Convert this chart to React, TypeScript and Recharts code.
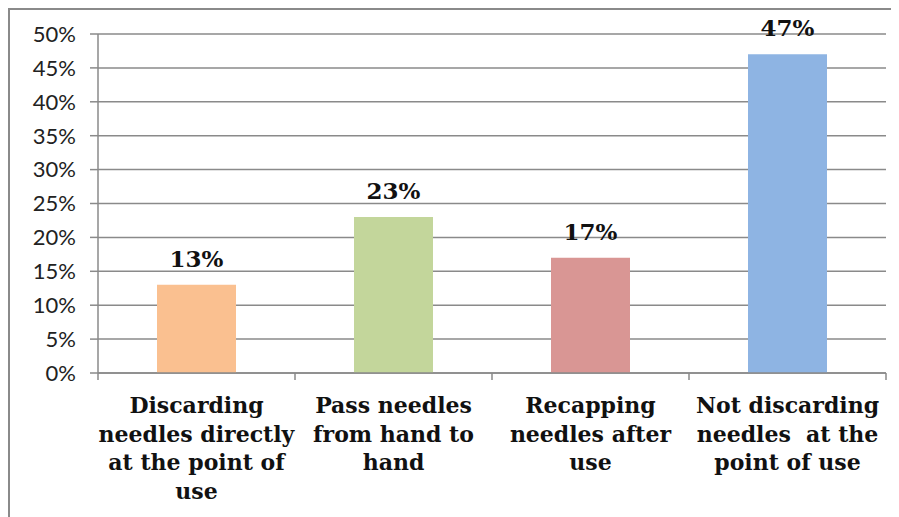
import { Bar, BarChart, CartesianGrid, Cell, LabelList, XAxis, YAxis } from "recharts";

const categories = [
  "Discarding needles directly at the point of use",
  "Pass needles from hand to hand",
  "Recapping needles after use",
  "Not discarding needles  at the point of use",
];
const tickLines = [
  ["Discarding", "needles directly", "at the point of", "use"],
  ["Pass needles", "from hand to", "hand"],
  ["Recapping", "needles after", "use"],
  ["Not discarding", "needles  at the", "point of use"],
];
const percents = [13, 23, 17, 47];
const barColors = ["#FAC090", "#C3D69B", "#D99694", "#8EB4E3"];
const yTicks = [0, 5, 10, 15, 20, 25, 30, 35, 40, 45, 50];

const W = 889;
const H = 507;
const margin = { top: 24, right: 13, left: 0, bottom: 0 };
const yAxisW = 88;
const halfBand = (W - margin.left - margin.right - yAxisW) / categories.length / 2;
const gray = "#8a8a8a";

const data = categories.map((name, i) => ({ name, value: percents[i] }));

const CategoryTick = (props: any) => {
  const { x, y, index } = props;
  const lines = tickLines[index] ?? [];
  return (
    <g>
      <line x1={x - halfBand} x2={x - halfBand} y1={y} y2={y + 7} stroke={gray} strokeWidth={1.5} />
      {index === categories.length - 1 && (
        <line x1={x + halfBand} x2={x + halfBand} y1={y} y2={y + 7} stroke={gray} strokeWidth={1.5} />
      )}
      <text
        x={x}
        y={y + 40}
        textAnchor="middle"
        fill="#111"
        style={{ fontFamily: "'DejaVu Serif', serif", fontWeight: 700, fontSize: 22 }}
      >
        {lines.map((l, i) => (
          <tspan key={i} x={x} dy={i === 0 ? 0 : 28.5} style={{ whiteSpace: "pre" }}>
            {l}
          </tspan>
        ))}
      </text>
    </g>
  );
};

export default function App() {
  return (
    <div
      style={{
        width: W,
        height: H,
        borderTop: `2px solid ${gray}`,
        borderLeft: `2px solid ${gray}`,
        background: "#fff",
      }}
    >
      <BarChart width={W} height={H} data={data} margin={margin} barCategoryGap={0}>
        <CartesianGrid vertical={false} stroke={gray} strokeWidth={1.5} />
        <XAxis
          dataKey="name"
          interval={0}
          height={144}
          tickSize={0}
          tickMargin={0}
          tickLine={false}
          axisLine={{ stroke: gray, strokeWidth: 1.5 }}
          tick={<CategoryTick />}
        />
        <YAxis
          width={yAxisW}
          domain={[0, 50]}
          ticks={yTicks}
          interval={0}
          tickSize={8}
          tickMargin={14}
          tickFormatter={(v: number) => `${v}%`}
          axisLine={{ stroke: gray, strokeWidth: 1.5 }}
          tickLine={{ stroke: gray, strokeWidth: 1.5 }}
          tick={{ fill: "#222", fontSize: 22, fontFamily: "Lato, sans-serif" }}
        />
        <Bar dataKey="value" barSize={79} isAnimationActive={false}>
          {data.map((d, i) => (
            <Cell key={d.name} fill={barColors[i]} />
          ))}
          <LabelList
            dataKey="value"
            position="top"
            offset={18}
            formatter={(v: any) => `${v}%`}
            style={{ fontFamily: "'DejaVu Serif', serif", fontWeight: 700, fontSize: 23, fill: "#111" }}
          />
        </Bar>
      </BarChart>
    </div>
  );
}
